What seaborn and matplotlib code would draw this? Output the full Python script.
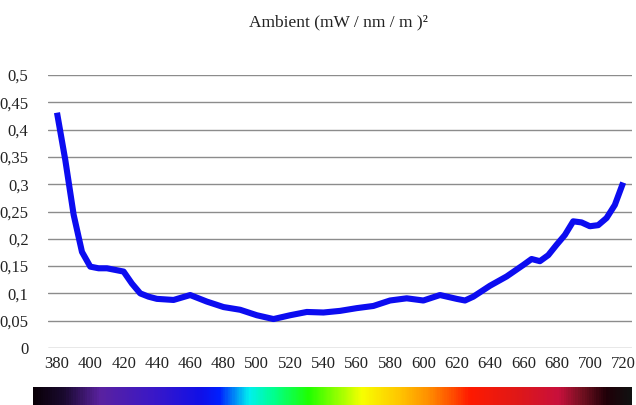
import numpy as np
import pandas as pd
import matplotlib
matplotlib.use("Agg")
import matplotlib.pyplot as plt
from matplotlib.colors import LinearSegmentedColormap
import seaborn as sns

# Ambient spectral irradiance readings
wavelength = [380, 385, 390, 395, 400, 405, 410, 420, 425, 430, 435, 440, 450,
              460, 470, 480, 490, 500, 510, 520, 530, 540, 550, 560, 570, 580,
              590, 600, 610, 620, 625, 630, 640, 650, 660, 665, 670, 675, 680,
              685, 690, 695, 700, 705, 710, 715, 720]
irradiance = [0.431, 0.344, 0.244, 0.176, 0.149, 0.146, 0.146, 0.140, 0.118,
              0.100, 0.094, 0.090, 0.088, 0.097, 0.085, 0.075, 0.070, 0.060,
              0.053, 0.060, 0.066, 0.065, 0.068, 0.073, 0.077, 0.087, 0.091,
              0.087, 0.097, 0.090, 0.087, 0.094, 0.114, 0.131, 0.152, 0.163,
              0.159, 0.170, 0.189, 0.207, 0.232, 0.230, 0.223, 0.225, 0.238,
              0.262, 0.303]
x_ticks = list(range(380, 721, 20))
y_ticks = [0, 0.05, 0.1, 0.15, 0.2, 0.25, 0.3, 0.35, 0.4, 0.45, 0.5]
y_labels = ["0", "0,05", "0,1", "0,15", "0,2", "0,25", "0,3", "0,35", "0,4", "0,45", "0,5"]
title = "Ambient (mW / nm / m )\u00b2"

df = pd.DataFrame({"wavelength": wavelength, "irradiance": irradiance})

sns.set_style("white")
plt.rcParams["font.family"] = ["Liberation Serif", "DejaVu Serif"]

W, H = 636, 405
fig = plt.figure(figsize=(W / 100, H / 100), dpi=100)
ax = fig.add_axes([48 / W, 1 - 348 / H, (632 - 48) / W, (348 - 75) / H])

sns.lineplot(data=df, x="wavelength", y="irradiance", ax=ax,
             color="#0c0cf0", linewidth=4.4, solid_capstyle="butt",
             solid_joinstyle="round")

ax.set_xlim(374.6, 725.3)
ax.set_ylim(0, 0.5)
ax.set_yticks(y_ticks)
ax.set_yticklabels(y_labels)
ax.set_xticks(x_ticks)
ax.set_xticklabels([str(t) for t in x_ticks])
ax.tick_params(axis="both", length=0, labelsize=12, colors="#222222")
ax.tick_params(axis="y", pad=14)
ax.tick_params(axis="x", pad=6)
ax.grid(axis="y", color="#8c8c8c", linewidth=1.0)
ax.grid(axis="x", visible=False)
ax.set_axisbelow(True)
ax.set_xlabel("")
ax.set_ylabel("")
for s in ax.spines.values():
    s.set_visible(False)

fig.text(338 / W, 1 - 22 / H, title, ha="center", va="center",
         fontsize=12.5, color="#222222")

# Visible-spectrum strip below the axis
spectrum = LinearSegmentedColormap.from_list("spectrum", [
    (0.00, "#0a0008"), (0.05, "#1a0a30"), (0.11, "#5a22a0"),
    (0.20, "#3a18c8"), (0.28, "#1010e8"), (0.31, "#0020ff"),
    (0.36, "#00f0f0"), (0.40, "#00ff90"), (0.46, "#20ff00"),
    (0.55, "#f8ff00"), (0.61, "#ffc800"), (0.66, "#ff9000"),
    (0.70, "#ff5000"), (0.73, "#ff1a00"), (0.81, "#e01818"),
    (0.88, "#c8103c"), (0.92, "#701020"), (0.96, "#200008"),
    (1.00, "#111111")])
bar_ax = fig.add_axes([33 / W, 0, (632 - 33) / W, 18 / H])
bar_ax.imshow(np.linspace(0, 1, 600)[None, :], aspect="auto", cmap=spectrum)
bar_ax.set_axis_off()

fig.savefig("out.png", dpi=100)
